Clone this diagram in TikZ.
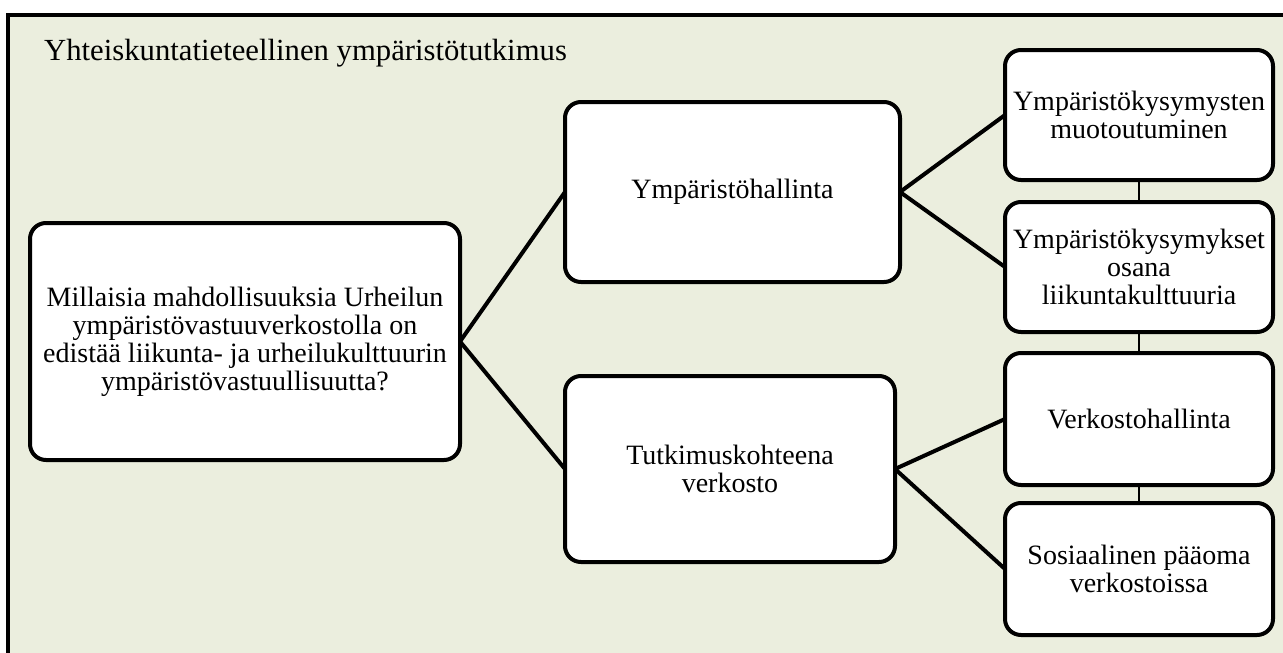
\documentclass[tikz,border=0pt]{standalone}
\usepackage{fontspec}
\setmainfont{Liberation Serif}
\definecolor{bgc}{RGB}{235,238,222}
\begin{document}
\begin{tikzpicture}[x=1pt,y=-1pt,
  box/.style={draw=black, line width=4pt, fill=white, rounded corners=16pt,
    align=center, inner sep=0pt, outer sep=0pt,
    font=\fontsize{28}{28}\selectfont},
  conn/.style={line width=4pt},
  thinlink/.style={line width=1.5pt},
  titletext/.style={anchor=base west, inner sep=0pt, font=\fontsize{30.7}{31}\selectfont}]
\useasboundingbox (0,0) rectangle (1283,653);
\fill[white] (0,0) rectangle (1283,653);
\fill[bgc] (8,15) rectangle (1283,653);
\draw[line width=4pt] (8,655) -- (8,15) -- (1285,15);

\node[titletext] (title) at (44,60) {Yhteiskuntatieteellinen ympäristötutkimus};

\node[box, minimum width=430pt, minimum height=237pt] (L) at (245,341.5)
  {Millaisia mahdollisuuksia Urheilun\\ympäristövastuuverkostolla on\\edistää liikunta- ja urheilukulttuurin\\ympäristövastuullisuutta?};
\node[box, minimum width=335pt, minimum height=180pt] (A) at (732.5,192) {Ympäristöhallinta};
\node[box, minimum width=330pt, minimum height=186pt] (B) at (730,469) {Tutkimuskohteena\\verkosto};
\node[box, minimum width=268pt, minimum height=130pt] (R1) at (1139,115) {Ympäristökysymysten\\muotoutuminen};
\node[box, minimum width=268pt, minimum height=130pt] (R2) at (1139,267) {Ympäristökysymykset\\osana\\liikuntakulttuuria};
\node[box, minimum width=268pt, minimum height=132pt] (R3) at (1139,419) {Verkostohallinta};
\node[box, minimum width=268pt, minimum height=132pt] (R4) at (1139,569) {Sosiaalinen pääoma\\verkostoissa};

\draw[conn] (L.east) -- (A.west);
\draw[conn] (L.east) -- (B.west);
\draw[conn] (A.east) -- (R1.west);
\draw[conn] (A.east) -- (R2.west);
\draw[conn] (B.east) -- (R3.west);
\draw[conn] (B.east) -- (R4.west);
\draw[thinlink] (R1.south) -- (R2.north);
\draw[thinlink] (R2.south) -- (R3.north);
\draw[thinlink] (R3.south) -- (R4.north);
\end{tikzpicture}
\end{document}
